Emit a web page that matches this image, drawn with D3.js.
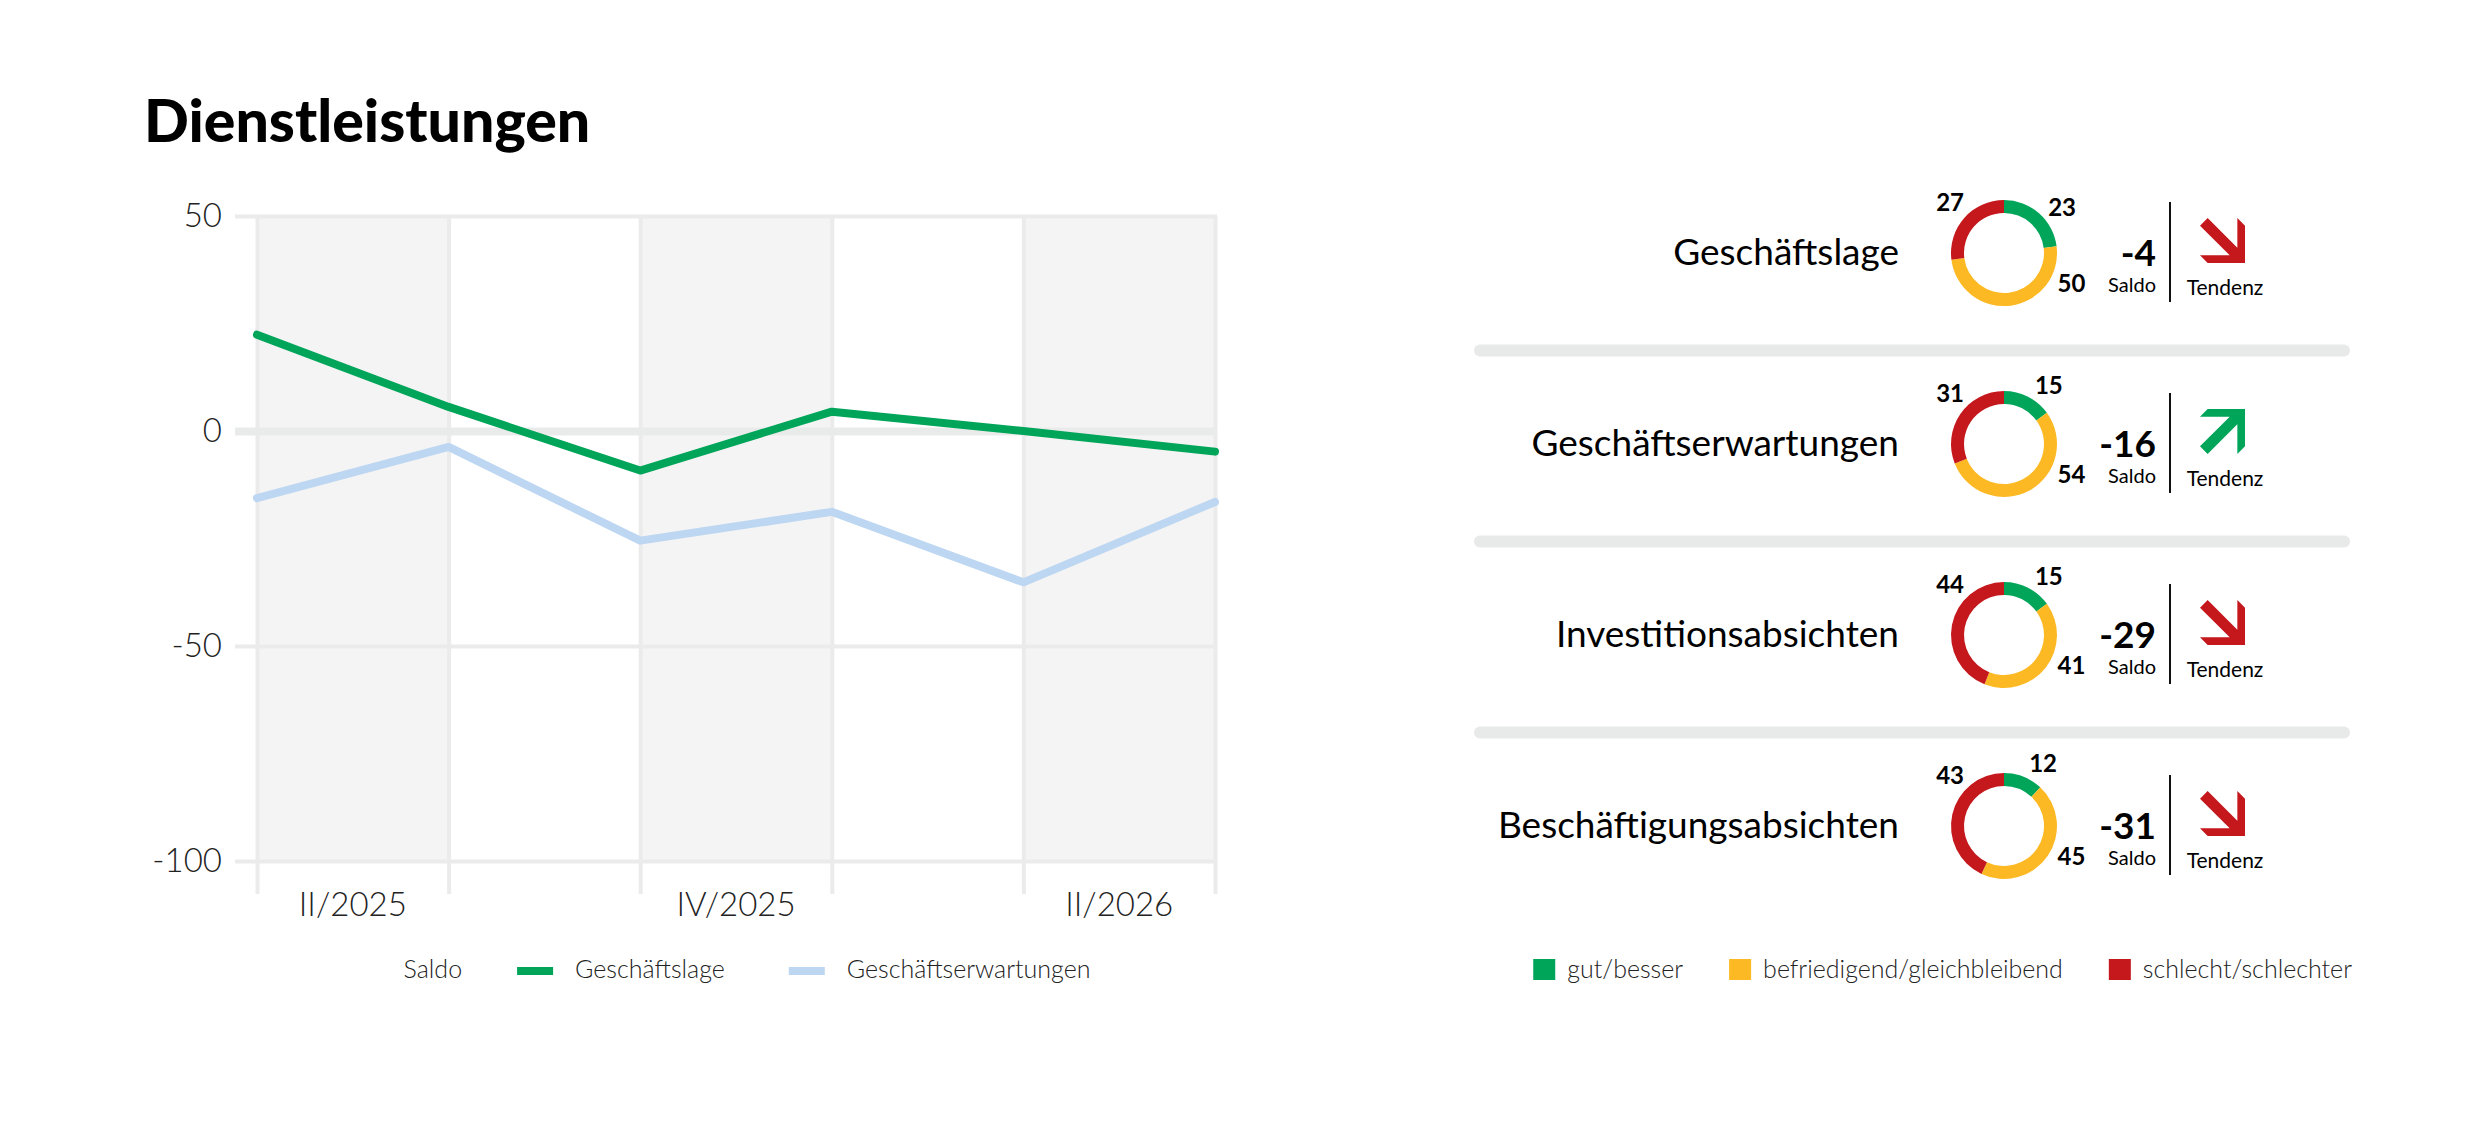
<!DOCTYPE html>
<html>
<head>
<meta charset="utf-8">
<script src="https://cdn.jsdelivr.net/npm/d3@7"></script>
<style>
  body { margin: 0; background: #fff; }
  svg { display: block; font-family: Lato, "Open Sans", sans-serif; }
</style>
</head>
<body>
<svg id="chart" width="2480" height="1122"></svg>
<script>
// quarter boundaries (points) and the quarters between them
const points = ['04/2025', '07/2025', '10/2025', '01/2026', '04/2026', '07/2026'];
const quarterLabels = ['II/2025', '', 'IV/2025', '', 'II/2026'];
const yTicks = [50, 0, -50, -100];

const seriesNames = ['Geschäftslage', 'Geschäftserwartungen'];
const geschaeftslage = [22.4, 5.6, -9.2, 4.5, 0, -4.8];
const geschaeftserwartungen = [-15.6, -3.7, -25.5, -18.8, -35.2, -16.5];

// right panel
const indicators = ['Geschäftslage', 'Geschäftserwartungen', 'Investitionsabsichten', 'Beschäftigungsabsichten'];
const gut = [23, 15, 15, 12];
const befriedigend = [50, 54, 41, 45];
const schlecht = [27, 31, 44, 43];
const saldo = [-4, -16, -29, -31];
const tendenz = ['down', 'up', 'down', 'down'];
const answerNames = ['gut/besser', 'befriedigend/gleichbleibend', 'schlecht/schlechter'];

const GREEN = '#00a55a';
const BLUE = '#bdd6f1';
const YELLOW = '#fdb924';
const RED = '#c4181d';
const GRID = '#ebebeb';
const BAND = '#f4f4f4';

const svg = d3.select('#chart');

svg.append('text')
  .attr('x', 144).attr('y', 142)
  .style('font-size', '59px').style('font-weight', 900)
  .text('Dienstleistungen');

// ---------- line chart ----------
const plot = { left: 257, right: 1215, top: 216, bottom: 861 };

const x = d3.scalePoint().domain(points).range([plot.left, plot.right]);
const y = d3.scaleLinear().domain([-100, 50]).range([plot.bottom, plot.top]);

const chart = svg.append('g');

// alternating quarter bands
const quarters = quarterLabels.map((label, i) => ({ label, i, from: points[i], to: points[i + 1] }));
chart.selectAll('.band').data(quarters.filter(q => q.i % 2 === 0)).enter().append('rect')
  .attr('x', d => x(d.from))
  .attr('width', d => x(d.to) - x(d.from))
  .attr('y', y(50))
  .attr('height', y(-100) - y(50))
  .attr('fill', BAND);

// vertical grid + ticks below
const xAxis = chart.append('g')
  .attr('transform', `translate(0, ${plot.bottom + 33})`)
  .call(d3.axisBottom(x).tickSize(-(plot.bottom + 33 - plot.top)).tickFormat(''));
xAxis.select('.domain').remove();
xAxis.selectAll('.tick line').attr('stroke', GRID).attr('stroke-width', 4);

// horizontal grid + y labels
const yAxis = chart.append('g')
  .attr('transform', `translate(235, 0)`)
  .call(d3.axisLeft(y).tickValues(yTicks).tickFormat(d => String(d))
    .tickSize(-(plot.right + 2 - 235)).tickPadding(13));
yAxis.select('.domain').remove();
yAxis.selectAll('.tick line')
  .attr('stroke', d => d === 0 ? '#e9ebea' : GRID)
  .attr('stroke-width', d => d === 0 ? 8 : 4);
yAxis.selectAll('.tick text')
  .attr('fill', '#222')
  .style('font-family', 'Lato')
  .style('font-size', '33px').style('font-weight', 300);

// quarter labels
chart.selectAll('.qlabel').data(quarters.filter(q => q.label)).enter().append('text')
  .attr('x', d => (x(d.from) + x(d.to)) / 2)
  .attr('y', 916)
  .attr('text-anchor', 'middle')
  .attr('fill', '#222')
  .style('font-size', '33px').style('font-weight', 300)
  .text(d => d.label);

// lines
const line = d3.line().x((d, i) => x(points[i])).y(d => y(d));
const series = [
  { name: seriesNames[0], values: geschaeftslage, color: GREEN },
  { name: seriesNames[1], values: geschaeftserwartungen, color: BLUE },
];
chart.selectAll('.series').data(series.slice().reverse()).enter().append('path')
  .attr('d', d => line(d.values))
  .attr('fill', 'none')
  .attr('stroke', d => d.color)
  .attr('stroke-width', 8)
  .attr('stroke-linecap', 'round')
  .attr('stroke-linejoin', 'round');

// legend for the lines
const lineLegend = svg.append('g');
let lx = 0;
const saldoLbl = lineLegend.append('text').attr('x', lx).attr('y', 978)
  .attr('fill', '#222').style('font-size', '25px').style('font-weight', 300).text('Saldo');
lx += saldoLbl.node().getComputedTextLength() + 55;
series.forEach(s => {
  lineLegend.append('rect').attr('x', lx).attr('y', 967).attr('width', 36).attr('height', 8).attr('fill', s.color);
  lx += 36 + 22;
  const t = lineLegend.append('text').attr('x', lx).attr('y', 978)
    .attr('fill', '#222').style('font-size', '25px').style('font-weight', 300).text(s.name);
  lx += t.node().getComputedTextLength() + 64;
});
lx -= 64;
lineLegend.attr('transform', `translate(${747 - lx / 2}, 0)`);

// ---------- right panel ----------
const rowY = d3.scalePoint().domain(indicators).range([253, 826]);
const donutX = 2004;
const pie = d3.pie().sort(null).value(d => d.value);
const arc = d3.arc().innerRadius(40).outerRadius(53);
const answerColors = [GREEN, YELLOW, RED];

// separators
svg.selectAll('.sep').data(indicators.slice(1)).enter().append('rect')
  .attr('x', 1474).attr('width', 2350 - 1474)
  .attr('y', d => (rowY(d) + rowY(indicators[indicators.indexOf(d) - 1])) / 2 + 2 - 6)
  .attr('height', 12).attr('rx', 6)
  .attr('fill', '#e8e9e9');

// arrow shape in unit box, pointing down-right
const t = 0.17;
const arrowDown = [[t, 0], [1 - t, 1 - 2 * t], [1 - t, 0], [1, t], [1, 1], [t, 1], [0, 1 - t], [1 - 2 * t, 1 - t], [0, t]];
const arrowUp = arrowDown.map(p => [p[0], 1 - p[1]]);

const rows = svg.selectAll('.row').data(indicators).enter().append('g')
  .attr('transform', d => `translate(0, ${rowY(d)})`);

rows.append('text')
  .attr('x', 1899).attr('y', 12)
  .attr('text-anchor', 'end')
  .style('font-size', '37px').style('font-weight', 400)
  .text(d => d);

rows.each(function (name, i) {
  const g = d3.select(this);
  const slices = pie([
    { key: 'gut', value: gut[i] },
    { key: 'befriedigend', value: befriedigend[i] },
    { key: 'schlecht', value: schlecht[i] },
  ]);
  const donut = g.append('g').attr('transform', `translate(${donutX}, 0)`);
  donut.selectAll('path').data(slices).enter().append('path')
    .attr('d', arc)
    .attr('fill', (d, j) => answerColors[j]);

  // value labels around the ring
  const labelAngle = [
    (slices[0].startAngle + slices[0].endAngle) / 2 + 0.18,
    Math.PI * 0.635,
    Math.PI * 1.74,
  ];
  donut.selectAll('.val').data(slices).enter().append('text')
    .attr('x', (d, j) => Math.sin(labelAngle[j]) * 74)
    .attr('y', (d, j) => -Math.cos(labelAngle[j]) * 74 + 9)
    .attr('text-anchor', 'middle')
    .style('font-size', '24px').style('font-weight', 700)
    .text(d => d.value);

  g.append('text')
    .attr('x', 2156).attr('y', 13)
    .attr('text-anchor', 'end')
    .style('font-size', '37px').style('font-weight', 700)
    .text(saldo[i]);
  g.append('text')
    .attr('x', 2156).attr('y', 39)
    .attr('text-anchor', 'end')
    .style('font-size', '20px').style('font-weight', 400)
    .text('Saldo');

  g.append('line')
    .attr('x1', 2170).attr('x2', 2170)
    .attr('y1', -51).attr('y2', 49)
    .attr('stroke', '#111').attr('stroke-width', 2);

  const shape = tendenz[i] === 'up' ? arrowUp : arrowDown;
  const size = 45;
  g.append('polygon')
    .attr('points', shape.map(p => [2200 + p[0] * size, -35 + p[1] * size].join(',')).join(' '))
    .attr('fill', tendenz[i] === 'up' ? GREEN : RED);

  g.append('text')
    .attr('x', 2225).attr('y', 42)
    .attr('text-anchor', 'middle')
    .style('font-size', '21px').style('font-weight', 400)
    .text('Tendenz');
});

// legend for the answers
const ansLegend = svg.append('g');
let ax = 0;
answerNames.forEach((name, i) => {
  ansLegend.append('rect').attr('x', ax).attr('y', 959).attr('width', 22).attr('height', 21).attr('fill', answerColors[i]);
  ax += 22 + 12;
  const tx = ansLegend.append('text').attr('x', ax).attr('y', 978)
    .attr('fill', '#222').style('font-size', '25px').style('font-weight', 300).text(name);
  ax += tx.node().getComputedTextLength() + 46;
});
ax -= 46;
ansLegend.attr('transform', `translate(${2352 - ax}, 0)`);
</script>
</body>
</html>
